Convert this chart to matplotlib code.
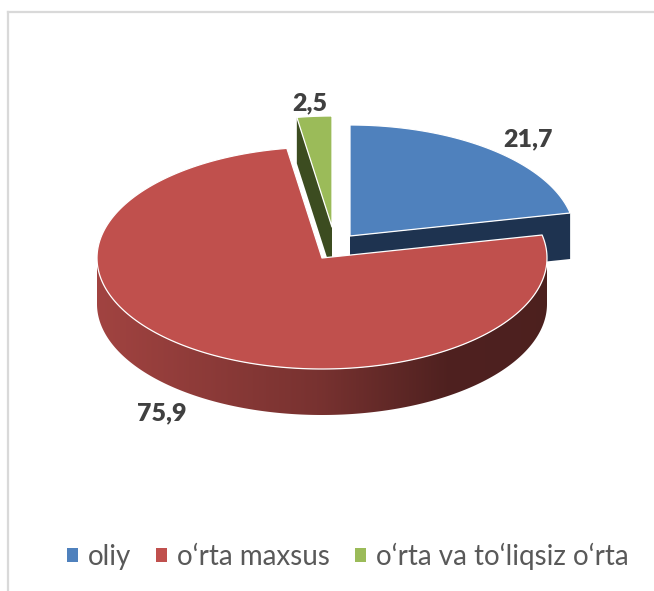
import numpy as np
import matplotlib
matplotlib.use('Agg')
import matplotlib.pyplot as plt
from matplotlib.patches import Polygon, Patch
from matplotlib.lines import Line2D

# data
categories = ['oliy', 'o\u2018rta maxsus', 'o\u2018rta va to\u2018liqsiz o\u2018rta']
values = [21.7, 75.9, 2.5]
labels = ['21,7', '75,9', '2,5']

# style
top_colors = ['#4F81BD', '#C0504D', '#9BBB59']
side_colors = ['#1E3350', '#7A302E', '#3C4C20']
explode_px = [(28, -22), (0, 0), (10, -31)]   # offsets of exploded slices (pixels)

W, H = 654, 591
cx, cy = 322, 258      # pie centre on screen
rx, ry = 225, 111      # ellipse radii of the top face
depth = 46             # thickness of the pie

fig = plt.figure(figsize=(W / 100, H / 100), dpi=100)
ax = fig.add_axes([0, 0, 1, 1])
ax.set_xlim(0, W)
ax.set_ylim(H, 0)
ax.axis('off')

# chart border (light grey, left and top visible)
ax.add_line(Line2D([8, 8], [12, H], color='#D9D9D9', lw=1.6))
ax.add_line(Line2D([8, W], [12, 12], color='#D9D9D9', lw=1.6))


def pt(theta, px, py, dz=0):
    # theta in degrees, clockwise from 12 o'clock
    t = np.radians(theta)
    return px + rx * np.sin(t), py - ry * np.cos(t) + dz


def arc(a, b, px, py, dz=0, n=200):
    th = np.linspace(a, b, n)
    x, y = pt(th, px, py, dz)
    return np.column_stack([x, y])


total = sum(values)
starts = np.concatenate([[0], np.cumsum(values)[:-1]]) / total * 360
ends = np.cumsum(values) / total * 360
mids = (starts + ends) / 2

# draw back slices first
order = sorted(range(len(values)), key=lambda i: -np.cos(np.radians(mids[i])))

for i in order:
    a, b = starts[i], ends[i]
    px, py = cx + explode_px[i][0], cy + explode_px[i][1]
    # radial wall at the start angle
    if np.sin(np.radians(a)) < -1e-6:
        o = pt(a, px, py)
        poly = [(px, py), o, (o[0], o[1] + depth), (px, py + depth)]
        ax.add_patch(Polygon(poly, closed=True, fc=side_colors[i], ec='none', zorder=2))
    # radial wall at the end angle
    if np.sin(np.radians(b)) > 1e-6:
        o = pt(b, px, py)
        poly = [(px, py), o, (o[0], o[1] + depth), (px, py + depth)]
        ax.add_patch(Polygon(poly, closed=True, fc=side_colors[i], ec='none', zorder=2))
    # outer curved wall on the front half, shaded left to right
    lo, hi = max(a, 90), min(b, 270)
    if hi > lo:
        top = arc(lo, hi, px, py)
        bot = arc(lo, hi, px, py, depth)[::-1]
        wall = Polygon(np.vstack([top, bot]), closed=True, fc='none', ec='none')
        ax.add_patch(wall)
        base = np.array(matplotlib.colors.to_rgb(top_colors[i]))
        tt = np.linspace(0, 1, 300)
        shade = np.interp(tt, [0, 0.5, 0.78, 1.0], [0.84, 0.62, 0.41, 0.40])
        grad = np.clip(base[None, :] * shade[:, None], 0, 1)[None, :, :]
        im = ax.imshow(grad, extent=[px - rx, px + rx, py + ry + depth, py - ry],
                       aspect='auto', zorder=2, interpolation='bilinear')
        im.set_clip_path(wall)
    # top face
    face = np.vstack([[(px, py)], arc(a, b, px, py)])
    ax.add_patch(Polygon(face, closed=True, fc=top_colors[i], ec='white', lw=0.9,
                         joinstyle='round', zorder=3))

ax.set_xlim(0, W)
ax.set_ylim(H, 0)

# data labels
for i in range(len(values)):
    px, py = cx + explode_px[i][0], cy + explode_px[i][1]
    t = np.radians(mids[i])
    lx = px + 1.26 * rx * np.sin(t)
    ly = py - 1.12 * ry * np.cos(t)
    if np.cos(t) < 0:
        ly += depth * 1.15
    ax.text(lx, ly, labels[i], ha='center', va='center', fontsize=18,
            fontweight='heavy', color='#404040', family='Lato', zorder=5)

# legend
handles = [Patch(fc=c, ec='none') for c in top_colors]
fig.legend(handles, categories, loc='center', bbox_to_anchor=(0.532, 1 - 556 / H),
           ncol=3, frameon=False, handlelength=0.4, handleheight=0.4,
           handletextpad=0.35, columnspacing=0.9,
           prop={'family': 'Lato', 'size': 20}, labelcolor='#595959')

fig.savefig('out.png', dpi=100)
